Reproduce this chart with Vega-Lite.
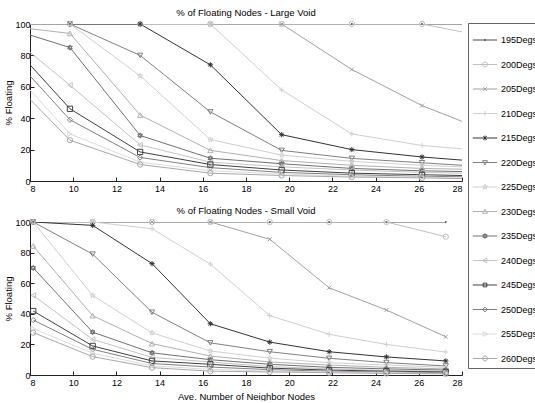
{
  "$schema": "https://vega.github.io/schema/vega-lite/v6.json",
  "padding": {"left": 3, "top": 7, "right": 0, "bottom": 0},
  "background": "white",
  "config": {
    "view": {"stroke": null},
    "font": "Liberation Sans",
    "title": {"fontSize": 9.5, "fontWeight": "normal", "color": "#000", "offset": 2, "font": "Liberation Sans"},
    "axis": {"grid": false, "domainColor": "#222", "tickColor": "#222", "labelColor": "#000", "titleColor": "#000", "labelFontSize": 9, "titleFontSize": 9.5, "titleFontWeight": "normal", "tickSize": -4, "labelFont": "Liberation Sans", "titleFont": "Liberation Sans"},
    "axisX": {"labelPadding": 7},
    "axisY": {"labelPadding": 4, "titlePadding": 1}
  },
  "data": {"values": [
    {"p":"L","s":"195Degs","x":8,"y":100},{"p":"L","s":"195Degs","x":9.85,"y":100},{"p":"L","s":"195Degs","x":13.1,"y":100},{"p":"L","s":"195Degs","x":16.35,"y":100},{"p":"L","s":"195Degs","x":19.65,"y":100},{"p":"L","s":"195Degs","x":22.9,"y":100},{"p":"L","s":"195Degs","x":26.15,"y":100},{"p":"L","s":"195Degs","x":28,"y":100},
    {"p":"L","s":"200Degs","x":8,"y":100},{"p":"L","s":"200Degs","x":9.85,"y":100},{"p":"L","s":"200Degs","x":13.1,"y":100},{"p":"L","s":"200Degs","x":16.35,"y":100},{"p":"L","s":"200Degs","x":19.65,"y":100},{"p":"L","s":"200Degs","x":22.9,"y":100},{"p":"L","s":"200Degs","x":26.15,"y":100},{"p":"L","s":"200Degs","x":28,"y":95},
    {"p":"L","s":"205Degs","x":8,"y":100},{"p":"L","s":"205Degs","x":9.85,"y":100},{"p":"L","s":"205Degs","x":13.1,"y":100},{"p":"L","s":"205Degs","x":16.35,"y":100},{"p":"L","s":"205Degs","x":19.65,"y":100},{"p":"L","s":"205Degs","x":22.9,"y":71},{"p":"L","s":"205Degs","x":26.15,"y":48},{"p":"L","s":"205Degs","x":28,"y":38},
    {"p":"L","s":"210Degs","x":8,"y":100},{"p":"L","s":"210Degs","x":9.85,"y":100},{"p":"L","s":"210Degs","x":13.1,"y":100},{"p":"L","s":"210Degs","x":16.35,"y":100},{"p":"L","s":"210Degs","x":19.65,"y":58},{"p":"L","s":"210Degs","x":22.9,"y":30},{"p":"L","s":"210Degs","x":26.15,"y":22.6},{"p":"L","s":"210Degs","x":28,"y":20.5},
    {"p":"L","s":"215Degs","x":8,"y":100},{"p":"L","s":"215Degs","x":9.85,"y":100},{"p":"L","s":"215Degs","x":13.1,"y":100},{"p":"L","s":"215Degs","x":16.35,"y":74},{"p":"L","s":"215Degs","x":19.65,"y":29.5},{"p":"L","s":"215Degs","x":22.9,"y":20},{"p":"L","s":"215Degs","x":26.15,"y":15.3},{"p":"L","s":"215Degs","x":28,"y":13.3},
    {"p":"L","s":"220Degs","x":8,"y":100},{"p":"L","s":"220Degs","x":9.85,"y":100},{"p":"L","s":"220Degs","x":13.1,"y":80},{"p":"L","s":"220Degs","x":16.35,"y":44},{"p":"L","s":"220Degs","x":19.65,"y":19.5},{"p":"L","s":"220Degs","x":22.9,"y":14.4},{"p":"L","s":"220Degs","x":26.15,"y":11.6},{"p":"L","s":"220Degs","x":28,"y":10},
    {"p":"L","s":"225Degs","x":8,"y":100},{"p":"L","s":"225Degs","x":9.85,"y":100},{"p":"L","s":"225Degs","x":13.1,"y":67},{"p":"L","s":"225Degs","x":16.35,"y":26.4},{"p":"L","s":"225Degs","x":19.65,"y":16.5},{"p":"L","s":"225Degs","x":22.9,"y":12.5},{"p":"L","s":"225Degs","x":26.15,"y":10},{"p":"L","s":"225Degs","x":28,"y":9},
    {"p":"L","s":"230Degs","x":8,"y":97},{"p":"L","s":"230Degs","x":9.85,"y":94},{"p":"L","s":"230Degs","x":13.1,"y":42},{"p":"L","s":"230Degs","x":16.35,"y":19.5},{"p":"L","s":"230Degs","x":19.65,"y":13},{"p":"L","s":"230Degs","x":22.9,"y":10},{"p":"L","s":"230Degs","x":26.15,"y":8},{"p":"L","s":"230Degs","x":28,"y":7.5},
    {"p":"L","s":"235Degs","x":8,"y":93},{"p":"L","s":"235Degs","x":9.85,"y":85},{"p":"L","s":"235Degs","x":13.1,"y":29},{"p":"L","s":"235Degs","x":16.35,"y":14.5},{"p":"L","s":"235Degs","x":19.65,"y":11},{"p":"L","s":"235Degs","x":22.9,"y":8},{"p":"L","s":"235Degs","x":26.15,"y":6.5},{"p":"L","s":"235Degs","x":28,"y":6},
    {"p":"L","s":"240Degs","x":8,"y":82},{"p":"L","s":"240Degs","x":9.85,"y":61},{"p":"L","s":"240Degs","x":13.1,"y":23},{"p":"L","s":"240Degs","x":16.35,"y":12},{"p":"L","s":"240Degs","x":19.65,"y":9},{"p":"L","s":"240Degs","x":22.9,"y":7},{"p":"L","s":"240Degs","x":26.15,"y":5.5},{"p":"L","s":"240Degs","x":28,"y":5},
    {"p":"L","s":"245Degs","x":8,"y":74},{"p":"L","s":"245Degs","x":9.85,"y":46},{"p":"L","s":"245Degs","x":13.1,"y":18.5},{"p":"L","s":"245Degs","x":16.35,"y":10.5},{"p":"L","s":"245Degs","x":19.65,"y":7},{"p":"L","s":"245Degs","x":22.9,"y":5},{"p":"L","s":"245Degs","x":26.15,"y":4},{"p":"L","s":"245Degs","x":28,"y":3.5},
    {"p":"L","s":"250Degs","x":8,"y":67},{"p":"L","s":"250Degs","x":9.85,"y":39},{"p":"L","s":"250Degs","x":13.1,"y":15},{"p":"L","s":"250Degs","x":16.35,"y":8.5},{"p":"L","s":"250Degs","x":19.65,"y":5.5},{"p":"L","s":"250Degs","x":22.9,"y":4},{"p":"L","s":"250Degs","x":26.15,"y":3},{"p":"L","s":"250Degs","x":28,"y":2.7},
    {"p":"L","s":"255Degs","x":8,"y":58},{"p":"L","s":"255Degs","x":9.85,"y":30},{"p":"L","s":"255Degs","x":13.1,"y":12},{"p":"L","s":"255Degs","x":16.35,"y":6.5},{"p":"L","s":"255Degs","x":19.65,"y":4.5},{"p":"L","s":"255Degs","x":22.9,"y":3},{"p":"L","s":"255Degs","x":26.15,"y":2.5},{"p":"L","s":"255Degs","x":28,"y":2},
    {"p":"L","s":"260Degs","x":8,"y":52},{"p":"L","s":"260Degs","x":9.85,"y":26},{"p":"L","s":"260Degs","x":13.1,"y":10.5},{"p":"L","s":"260Degs","x":16.35,"y":5},{"p":"L","s":"260Degs","x":19.65,"y":3.5},{"p":"L","s":"260Degs","x":22.9,"y":2.5},{"p":"L","s":"260Degs","x":26.15,"y":2},{"p":"L","s":"260Degs","x":28,"y":1.5},
    {"p":"S","s":"195Degs","x":8.15,"y":100},{"p":"S","s":"195Degs","x":10.9,"y":100},{"p":"S","s":"195Degs","x":13.65,"y":100},{"p":"S","s":"195Degs","x":16.35,"y":100},{"p":"S","s":"195Degs","x":19.1,"y":100},{"p":"S","s":"195Degs","x":21.85,"y":100},{"p":"S","s":"195Degs","x":24.5,"y":100},{"p":"S","s":"195Degs","x":27.25,"y":100},
    {"p":"S","s":"200Degs","x":8.15,"y":100},{"p":"S","s":"200Degs","x":10.9,"y":100},{"p":"S","s":"200Degs","x":13.65,"y":100},{"p":"S","s":"200Degs","x":16.35,"y":100},{"p":"S","s":"200Degs","x":19.1,"y":100},{"p":"S","s":"200Degs","x":21.85,"y":100},{"p":"S","s":"200Degs","x":24.5,"y":100},{"p":"S","s":"200Degs","x":27.25,"y":90.4},
    {"p":"S","s":"205Degs","x":8.15,"y":100},{"p":"S","s":"205Degs","x":10.9,"y":100},{"p":"S","s":"205Degs","x":13.65,"y":100},{"p":"S","s":"205Degs","x":16.35,"y":100},{"p":"S","s":"205Degs","x":19.1,"y":88.7},{"p":"S","s":"205Degs","x":21.85,"y":57},{"p":"S","s":"205Degs","x":24.5,"y":42.5},{"p":"S","s":"205Degs","x":27.25,"y":25},
    {"p":"S","s":"210Degs","x":8.15,"y":100},{"p":"S","s":"210Degs","x":10.9,"y":100},{"p":"S","s":"210Degs","x":13.65,"y":95.6},{"p":"S","s":"210Degs","x":16.35,"y":72.5},{"p":"S","s":"210Degs","x":19.1,"y":38.8},{"p":"S","s":"210Degs","x":21.85,"y":26.6},{"p":"S","s":"210Degs","x":24.5,"y":20},{"p":"S","s":"210Degs","x":27.25,"y":15},
    {"p":"S","s":"215Degs","x":8.15,"y":100},{"p":"S","s":"215Degs","x":10.9,"y":97.8},{"p":"S","s":"215Degs","x":13.65,"y":72.8},{"p":"S","s":"215Degs","x":16.35,"y":33.5},{"p":"S","s":"215Degs","x":19.1,"y":21.5},{"p":"S","s":"215Degs","x":21.85,"y":15.2},{"p":"S","s":"215Degs","x":24.5,"y":11.8},{"p":"S","s":"215Degs","x":27.25,"y":9.2},
    {"p":"S","s":"220Degs","x":8.15,"y":100},{"p":"S","s":"220Degs","x":10.9,"y":79},{"p":"S","s":"220Degs","x":13.65,"y":41},{"p":"S","s":"220Degs","x":16.35,"y":21},{"p":"S","s":"220Degs","x":19.1,"y":15.2},{"p":"S","s":"220Degs","x":21.85,"y":10.9},{"p":"S","s":"220Degs","x":24.5,"y":8.1},{"p":"S","s":"220Degs","x":27.25,"y":5.9},
    {"p":"S","s":"225Degs","x":8.15,"y":100},{"p":"S","s":"225Degs","x":10.9,"y":52},{"p":"S","s":"225Degs","x":13.65,"y":27.5},{"p":"S","s":"225Degs","x":16.35,"y":15.7},{"p":"S","s":"225Degs","x":19.1,"y":11},{"p":"S","s":"225Degs","x":21.85,"y":8},{"p":"S","s":"225Degs","x":24.5,"y":6.5},{"p":"S","s":"225Degs","x":27.25,"y":5},
    {"p":"S","s":"230Degs","x":8.15,"y":84.3},{"p":"S","s":"230Degs","x":10.9,"y":38.8},{"p":"S","s":"230Degs","x":13.65,"y":20.5},{"p":"S","s":"230Degs","x":16.35,"y":12.4},{"p":"S","s":"230Degs","x":19.1,"y":8.5},{"p":"S","s":"230Degs","x":21.85,"y":6.5},{"p":"S","s":"230Degs","x":24.5,"y":5},{"p":"S","s":"230Degs","x":27.25,"y":4},
    {"p":"S","s":"235Degs","x":8.15,"y":70},{"p":"S","s":"235Degs","x":10.9,"y":28},{"p":"S","s":"235Degs","x":13.65,"y":14.5},{"p":"S","s":"235Degs","x":16.35,"y":10},{"p":"S","s":"235Degs","x":19.1,"y":7},{"p":"S","s":"235Degs","x":21.85,"y":5},{"p":"S","s":"235Degs","x":24.5,"y":4},{"p":"S","s":"235Degs","x":27.25,"y":3.2},
    {"p":"S","s":"240Degs","x":8.15,"y":52},{"p":"S","s":"240Degs","x":10.9,"y":23.3},{"p":"S","s":"240Degs","x":13.65,"y":11.5},{"p":"S","s":"240Degs","x":16.35,"y":8.5},{"p":"S","s":"240Degs","x":19.1,"y":5.5},{"p":"S","s":"240Degs","x":21.85,"y":4},{"p":"S","s":"240Degs","x":24.5,"y":3},{"p":"S","s":"240Degs","x":27.25,"y":2.5},
    {"p":"S","s":"245Degs","x":8.15,"y":41.8},{"p":"S","s":"245Degs","x":10.9,"y":19},{"p":"S","s":"245Degs","x":13.65,"y":9.2},{"p":"S","s":"245Degs","x":16.35,"y":7},{"p":"S","s":"245Degs","x":19.1,"y":4.5},{"p":"S","s":"245Degs","x":21.85,"y":3.2},{"p":"S","s":"245Degs","x":24.5,"y":2.5},{"p":"S","s":"245Degs","x":27.25,"y":2},
    {"p":"S","s":"250Degs","x":8.15,"y":35.9},{"p":"S","s":"250Degs","x":10.9,"y":16.8},{"p":"S","s":"250Degs","x":13.65,"y":7.5},{"p":"S","s":"250Degs","x":16.35,"y":5.2},{"p":"S","s":"250Degs","x":19.1,"y":3.5},{"p":"S","s":"250Degs","x":21.85,"y":2.5},{"p":"S","s":"250Degs","x":24.5,"y":2},{"p":"S","s":"250Degs","x":27.25,"y":1.5},
    {"p":"S","s":"255Degs","x":8.15,"y":30.3},{"p":"S","s":"255Degs","x":10.9,"y":14.2},{"p":"S","s":"255Degs","x":13.65,"y":6},{"p":"S","s":"255Degs","x":16.35,"y":3.7},{"p":"S","s":"255Degs","x":19.1,"y":2.5},{"p":"S","s":"255Degs","x":21.85,"y":2},{"p":"S","s":"255Degs","x":24.5,"y":1.5},{"p":"S","s":"255Degs","x":27.25,"y":1},
    {"p":"S","s":"260Degs","x":8.15,"y":27.7},{"p":"S","s":"260Degs","x":10.9,"y":12},{"p":"S","s":"260Degs","x":13.65,"y":4.8},{"p":"S","s":"260Degs","x":16.35,"y":2.5},{"p":"S","s":"260Degs","x":19.1,"y":2},{"p":"S","s":"260Degs","x":21.85,"y":1.5},{"p":"S","s":"260Degs","x":24.5,"y":1},{"p":"S","s":"260Degs","x":27.25,"y":0.8}
  ]},
  "spacing": 12,
  "vconcat": [
    {
      "title": "% of Floating Nodes - Large Void",
      "width": 432, "height": 157,
      "transform": [{"filter": "datum.p == 'L'"}],
      "encoding": {
        "x": {"field": "x", "type": "quantitative", "scale": {"domain": [8, 28], "nice": false, "zero": false}, "axis": {"values": [8,10,12,14,16,18,20,22,24,26,28], "title": null}},
        "y": {"field": "y", "type": "quantitative", "scale": {"domain": [0, 100], "nice": false}, "axis": {"values": [0,20,40,60,80,100], "title": "% Floating"}}
      },
      "layer": [
        {"mark": {"type": "line", "strokeWidth": 1, "clip": true},
         "encoding": {"color": {"field": "s", "type": "nominal",
          "scale": {"domain": ["195Degs","200Degs","205Degs","210Degs","215Degs","220Degs","225Degs","230Degs","235Degs","240Degs","245Degs","250Degs","255Degs","260Degs"],
                    "range": ["#4d4d4d","#c0c0c0","#a0a0a0","#cfcfcf","#333333","#808080","#d0d0d0","#b0b0b0","#707070","#c4c4c4","#404040","#808080","#dcdcdc","#a8a8a8"]}}}},
        {"transform": [{"filter": "datum.x > 8 && datum.x < 28"}],
         "mark": {"type": "point", "filled": false, "size": 28, "strokeWidth": 1, "opacity": 1,
           "shape": {"expr": "{'195Degs':'M0,-0.3L0.3,0L0,0.3L-0.3,0Z','200Degs':'circle','205Degs':'M-0.75,-0.75L0.75,0.75M-0.75,0.75L0.75,-0.75','210Degs':'M-1,0H1M0,-1V1','215Degs':'M-1,0H1M0,-1V1M-0.7,-0.7L0.7,0.7M-0.7,0.7L0.7,-0.7','220Degs':'triangle-down','225Degs':'M0,-1L0.235,-0.324L0.951,-0.309L0.38,0.124L0.588,0.809L0,0.4L-0.588,0.809L-0.38,0.124L-0.951,-0.309L-0.235,-0.324Z','230Degs':'triangle-up','235Degs':'M0,-1L0.866,0.5L-0.866,0.5ZM0,1L0.866,-0.5L-0.866,-0.5Z','240Degs':'triangle-left','245Degs':'square','250Degs':'diamond','255Degs':'triangle-right','260Degs':'circle'}[datum.s]"}},
         "encoding": {"color": {"field": "s", "type": "nominal"}}},
        {"transform": [{"filter": "false"}],
         "mark": {"type": "point", "filled": false, "size": 28, "strokeWidth": 1, "opacity": 1},
         "encoding": {
           "color": {"field": "s", "type": "nominal",
             "legend": {"title": null, "orient": "none", "legendX": 438, "legendY": -1, "strokeColor": "#666", "fillColor": "white", "padding": 4, "symbolSize": 600, "symbolStrokeWidth": 1, "symbolFillColor": "transparent", "labelFontSize": 9, "labelFont": "Liberation Sans", "labelColor": "#000", "rowPadding": 6.5, "labelOffset": 3}},
           "shape": {"field": "s", "type": "nominal",
             "legend": {"title": null, "orient": "none", "legendX": 438, "legendY": -1, "strokeColor": "#666", "fillColor": "white", "padding": 4, "symbolSize": 600, "symbolStrokeWidth": 1, "symbolFillColor": "transparent", "labelFontSize": 9, "labelFont": "Liberation Sans", "labelColor": "#000", "rowPadding": 6.5, "labelOffset": 3},
             "scale": {"domain": ["195Degs","200Degs","205Degs","210Degs","215Degs","220Degs","225Degs","230Degs","235Degs","240Degs","245Degs","250Degs","255Degs","260Degs"],
               "range": ["M-1,0H1M-0.05,0A0.05,0.05 0 1,1 0.05,0A0.05,0.05 0 1,1 -0.05,0","M-1,0H1M0.2,0A0.2,0.2 0 1,1 -0.2,0A0.2,0.2 0 1,1 0.2,0","M-1,0H1M-0.15,-0.15L0.15,0.15M-0.15,0.15L0.15,-0.15","M-1,0H1M0,-0.2V0.2","M-1,0H1M0,-0.2V0.2M-0.14,-0.14L0.14,0.14M-0.14,0.14L0.14,-0.14","M-1,0H1M-0.2,-0.15L0.2,-0.15L0,0.2Z","M-1,0H1M0,-0.22L0.052,-0.071L0.209,-0.068L0.084,0.027L0.129,0.178L0,0.088L-0.129,0.178L-0.084,0.027L-0.209,-0.068L-0.052,-0.071Z","M-1,0H1M-0.2,0.15L0.2,0.15L0,-0.2Z","M-1,0H1M0,-0.2L0.173,0.1L-0.173,0.1ZM0,0.2L0.173,-0.1L-0.173,-0.1Z","M-1,0H1M0.15,-0.2L0.15,0.2L-0.2,0Z","M-1,0H1M-0.15,-0.15H0.15V0.15H-0.15Z","M-1,0H1M0,-0.2L0.2,0L0,0.2L-0.2,0Z","M-1,0H1M-0.15,-0.2L-0.15,0.2L0.2,0Z","M-1,0H1M0.2,0A0.2,0.2 0 1,1 -0.2,0A0.2,0.2 0 1,1 0.2,0"]}}}}
      ]
    },
    {
      "title": "% of Floating Nodes - Small Void",
      "width": 432, "height": 153,
      "transform": [{"filter": "datum.p == 'S'"}],
      "encoding": {
        "x": {"field": "x", "type": "quantitative", "scale": {"domain": [8, 28], "nice": false, "zero": false}, "axis": {"values": [8,10,12,14,16,18,20,22,24,26,28], "title": "Ave. Number of Neighbor Nodes", "titlePadding": 4}},
        "y": {"field": "y", "type": "quantitative", "scale": {"domain": [0, 100], "nice": false}, "axis": {"values": [0,20,40,60,80,100], "title": "% Floating"}},
        "color": {"field": "s", "type": "nominal"}
      },
      "layer": [
        {"mark": {"type": "line", "strokeWidth": 1, "clip": true}},
        {"mark": {"type": "point", "filled": false, "size": 28, "strokeWidth": 1, "opacity": 1,
           "shape": {"expr": "{'195Degs':'M0,-0.3L0.3,0L0,0.3L-0.3,0Z','200Degs':'circle','205Degs':'M-0.75,-0.75L0.75,0.75M-0.75,0.75L0.75,-0.75','210Degs':'M-1,0H1M0,-1V1','215Degs':'M-1,0H1M0,-1V1M-0.7,-0.7L0.7,0.7M-0.7,0.7L0.7,-0.7','220Degs':'triangle-down','225Degs':'M0,-1L0.235,-0.324L0.951,-0.309L0.38,0.124L0.588,0.809L0,0.4L-0.588,0.809L-0.38,0.124L-0.951,-0.309L-0.235,-0.324Z','230Degs':'triangle-up','235Degs':'M0,-1L0.866,0.5L-0.866,0.5ZM0,1L0.866,-0.5L-0.866,-0.5Z','240Degs':'triangle-left','245Degs':'square','250Degs':'diamond','255Degs':'triangle-right','260Degs':'circle'}[datum.s]"}}}
      ]
    }
  ]
}
